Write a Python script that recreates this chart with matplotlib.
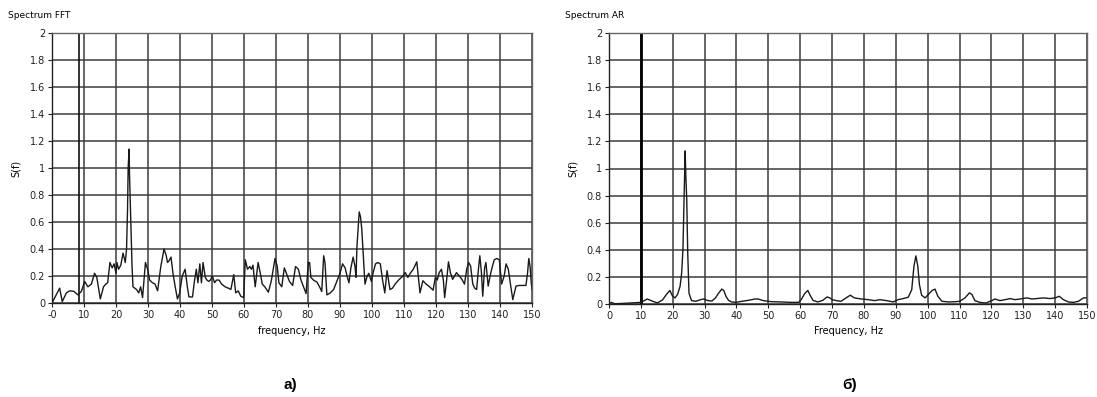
import numpy as np
import matplotlib
matplotlib.use('Agg')
import matplotlib.pyplot as plt

# spectrum FFT
fft_freq = [0, 2.4, 3.2, 4.5, 5.5, 6.8, 8.1, 9.2, 10.2, 11.2, 12.3, 13.3, 14, 15.1,
            16.1, 16.8, 17.4, 18.1, 18.8, 19.4, 20, 20.3, 20.8, 21.5, 22.2, 22.9,
            23.3, 23.6, 23.8, 24.1, 24.2, 24.6, 25.0, 25.3, 26.4, 27.1, 27.7, 28.3,
            29.2, 30, 30.5, 31.4, 32.2, 33, 34, 35, 35.7, 36.1, 36.5, 37.2, 37.8,
            38.5, 39.2, 39.9, 40.7, 41.6, 42.3, 42.8, 43.9, 44.5, 45.1, 45.6, 46.2,
            46.7, 47.2, 47.9, 48.4, 49, 49.5, 50.1, 50.8, 51.4, 52.2, 53, 54.1,
            55.1, 55.9, 56.8, 57.4, 58.2, 59, 59.9, 60.4, 61.1, 61.8, 62.3, 62.8,
            63.5, 64.4, 65.1, 65.7, 66.5, 67.6, 68.5, 69.7, 70.4, 70.9, 71.8, 72.6,
            73.4, 74.2, 75.2, 76.1, 77, 77.8, 78.6, 79.4, 80.1, 80.5, 80.9, 81.7,
            82.8, 83.6, 84.3, 84.9, 85.3, 85.9, 87, 88, 89, 90, 90.8, 91.6, 92.2,
            92.8, 93.4, 94.1, 94.7, 95, 95.3, 96, 96.4, 96.8, 97.3, 97.8, 98.5, 99,
            99.4, 99.8, 100.3, 101.1, 101.8, 102.6, 103.3, 104, 104.7, 105.6, 106.4,
            107.4, 108.5, 109.5, 110.4, 111.2, 112.1, 112.9, 114, 115, 115.9, 116.9,
            118, 119.1, 119.8, 120.4, 121, 121.7, 122.3, 122.7, 123.3, 123.9, 124.5,
            125.2, 125.8, 126.4, 127.3, 128.1, 128.9, 129.6, 130.2, 130.8, 131.5,
            132.1, 132.7, 133.3, 133.7, 134.2, 134.6, 135.2, 135.6, 136.3, 136.9,
            137.5, 138.2, 139, 139.8, 140.5, 141.3, 141.9, 142.6, 143.2, 144, 145,
            146, 147.1, 148.1, 148.6, 149, 149.4, 149.8, 150]
fft_vals = [0.0, 0.11, 0.01, 0.075, 0.09, 0.087, 0.06, 0.087, 0.16, 0.12, 0.14, 0.22,
            0.19, 0.03, 0.12, 0.14, 0.15, 0.30, 0.26, 0.29, 0.22, 0.30, 0.25, 0.28,
            0.37, 0.30, 0.40, 0.69, 1.0, 1.14, 0.97, 0.62, 0.28, 0.12, 0.10, 0.075,
            0.12, 0.04, 0.30, 0.24, 0.17, 0.15, 0.14, 0.09, 0.27, 0.40, 0.35, 0.30,
            0.31, 0.34, 0.22, 0.12, 0.03, 0.075, 0.20, 0.25, 0.12, 0.045, 0.045, 0.16,
            0.25, 0.15, 0.29, 0.15, 0.30, 0.19, 0.17, 0.16, 0.17, 0.20, 0.15, 0.17,
            0.17, 0.14, 0.12, 0.11, 0.10, 0.21, 0.075, 0.09, 0.05, 0.04, 0.32, 0.25,
            0.27, 0.25, 0.28, 0.12, 0.30, 0.22, 0.14, 0.12, 0.08, 0.16, 0.33, 0.27,
            0.15, 0.12, 0.26, 0.21, 0.16, 0.13, 0.27, 0.25, 0.17, 0.12, 0.07, 0.30,
            0.30, 0.19, 0.17, 0.155, 0.12, 0.085, 0.35, 0.30, 0.06, 0.075, 0.10, 0.16,
            0.22, 0.29, 0.26, 0.20, 0.15, 0.26, 0.34, 0.27, 0.19, 0.42, 0.675, 0.64,
            0.55, 0.35, 0.14, 0.20, 0.22, 0.19, 0.16, 0.22, 0.29, 0.30, 0.29, 0.17,
            0.075, 0.24, 0.10, 0.11, 0.145, 0.175, 0.195, 0.225, 0.19, 0.225, 0.25,
            0.305, 0.075, 0.165, 0.14, 0.12, 0.095, 0.19, 0.17, 0.225, 0.25, 0.17,
            0.04, 0.165, 0.305, 0.225, 0.175, 0.20, 0.225, 0.20, 0.175, 0.14, 0.25,
            0.30, 0.275, 0.14, 0.11, 0.10, 0.26, 0.35, 0.225, 0.05, 0.26, 0.30, 0.125,
            0.20, 0.26, 0.32, 0.33, 0.32, 0.14, 0.20, 0.29, 0.25, 0.15, 0.025, 0.125,
            0.13, 0.13, 0.13, 0.22, 0.33, 0.27, 0.14, 0.10]

# spectrum AR
ar_freq = [0, 0.7, 1.8, 4.9, 10, 12, 13.7, 15.2, 16.8, 18, 19.1, 19.9, 20.7, 21.5,
           22.3, 22.8, 23.2, 23.6, 23.9, 24.1, 24.4, 24.7, 25.1, 25.9, 27.2, 28.7,
           29.7, 31, 32.3, 33.4, 34.4, 35.4, 36, 36.7, 37.5, 38.5, 39.9, 41.7, 43.7,
           45.8, 46.8, 48.4, 51, 54.1, 57.2, 59.5, 60.3, 61.4, 62.4, 63, 64, 65.5,
           67.1, 68.4, 69.3, 70, 71.3, 72.8, 74.4, 75.7, 77, 79.2, 81.3, 83.4, 85,
           87.1, 89.2, 90.7, 92.3, 93.9, 95, 95.7, 96.3, 96.9, 97.4, 98.1, 99.2,
           100.2, 101.4, 102.3, 103.2, 104.5, 106.6, 108.7, 110.1, 111.7, 113.1,
           113.9, 114.8, 116.4, 118.3, 120.1, 121.1, 122.7, 124.3, 125.9, 127.4, 129,
           131.1, 132.7, 134.2, 136.3, 138.4, 140, 141.3, 142.6, 144.2, 145.8, 147.3,
           148.9, 150]
ar_vals = [0.0, 0.012, 0.002, 0.005, 0.012, 0.037, 0.02, 0.008, 0.03, 0.07, 0.10,
           0.06, 0.045, 0.07, 0.13, 0.23, 0.40, 0.82, 1.13, 0.95, 0.77, 0.38, 0.08,
           0.025, 0.02, 0.032, 0.037, 0.025, 0.022, 0.045, 0.08, 0.11, 0.10, 0.057,
           0.027, 0.015, 0.012, 0.02, 0.027, 0.037, 0.037, 0.025, 0.017, 0.015, 0.012,
           0.012, 0.032, 0.077, 0.10, 0.07, 0.027, 0.015, 0.027, 0.052, 0.045, 0.032,
           0.025, 0.02, 0.045, 0.065, 0.045, 0.037, 0.032, 0.025, 0.032, 0.025, 0.015,
           0.032, 0.04, 0.05, 0.105, 0.28, 0.355, 0.28, 0.145, 0.065, 0.045, 0.07,
           0.10, 0.11, 0.057, 0.02, 0.015, 0.017, 0.02, 0.045, 0.082, 0.07, 0.025,
           0.012, 0.007, 0.025, 0.037, 0.025, 0.032, 0.04, 0.032, 0.037, 0.045, 0.037,
           0.04, 0.045, 0.04, 0.045, 0.057, 0.032, 0.015, 0.012, 0.02, 0.045, 0.045]

# cursor lines shown in the screenshots
fft_cursors = [8.3]
ar_cursors = [10]

x_ticks = list(range(0, 151, 10))
fft_xlabels = ['-0'] + [str(v) for v in x_ticks[1:]]
ar_xlabels = [str(v) for v in x_ticks]
y_ticks = [0, 0.2, 0.4, 0.6, 0.8, 1, 1.2, 1.4, 1.6, 1.8, 2]
y_labels = ['0', '0.2', '0.4', '0.6', '0.8', '1', '1.2', '1.4', '1.6', '1.8', '2']

plt.rcParams['font.family'] = ['DejaVu Sans']

fig = plt.figure(figsize=(10.97, 3.97), dpi=100)
W, H = 1097.0, 397.0


def px_axes(x0, x1, y0, y1):
    return fig.add_axes([x0 / W, 1 - y1 / H, (x1 - x0) / W, (y1 - y0) / H])


def style_axes(ax, xlabels):
    ax.set_xlim(0, 150)
    ax.set_ylim(0, 2)
    ax.set_xticks(x_ticks)
    ax.set_xticklabels(xlabels)
    ax.set_yticks(y_ticks)
    ax.set_yticklabels(y_labels)
    ax.tick_params(direction='out', length=3, width=0.8, labelsize=7, pad=2,
                   colors='#222222')
    ax.grid(True, color='#3c3c3c', linewidth=1.1)
    ax.set_axisbelow(True)
    for s in ax.spines.values():
        s.set_color('#666666')
        s.set_linewidth(1)
    ax.spines['left'].set_color('#222222')
    ax.spines['bottom'].set_color('#222222')


ax1 = px_axes(52, 532, 33, 303)
style_axes(ax1, fft_xlabels)
for c in fft_cursors:
    ax1.axvline(c, color='#111111', lw=1.2)
ax1.plot(fft_freq, fft_vals, color='#1a1a1a', lw=1)

ax2 = px_axes(609, 1087, 33, 304)
style_axes(ax2, ar_xlabels)
for c in ar_cursors:
    ax2.axvline(c, color='#000000', lw=2)
ax2.plot(ar_freq, ar_vals, color='#1a1a1a', lw=1)

fig.text(8 / W, 1 - 15 / H, 'Spectrum FFT', fontsize=6.5, va='center', ha='left')
fig.text(565 / W, 1 - 15 / H, 'Spectrum AR', fontsize=6.5, va='center', ha='left')
fig.text(16 / W, 1 - 168 / H, 'S(f)', fontsize=7, rotation=90, va='center', ha='center')
fig.text(573 / W, 1 - 168 / H, 'S(f)', fontsize=7, rotation=90, va='center', ha='center')
fig.text(292 / W, 1 - 331 / H, 'frequency, Hz', fontsize=7, va='center', ha='center')
fig.text(848 / W, 1 - 331 / H, 'Frequency, Hz', fontsize=7, va='center', ha='center')
fig.text(290 / W, 1 - 385 / H, 'а)', fontsize=11, fontweight='bold',
         family=['Liberation Sans', 'DejaVu Sans'], va='center', ha='center')
fig.text(850 / W, 1 - 385 / H, 'б)', fontsize=11, fontweight='bold',
         family=['Liberation Sans', 'DejaVu Sans'], va='center', ha='center')

fig.savefig('out.png', dpi=100)
